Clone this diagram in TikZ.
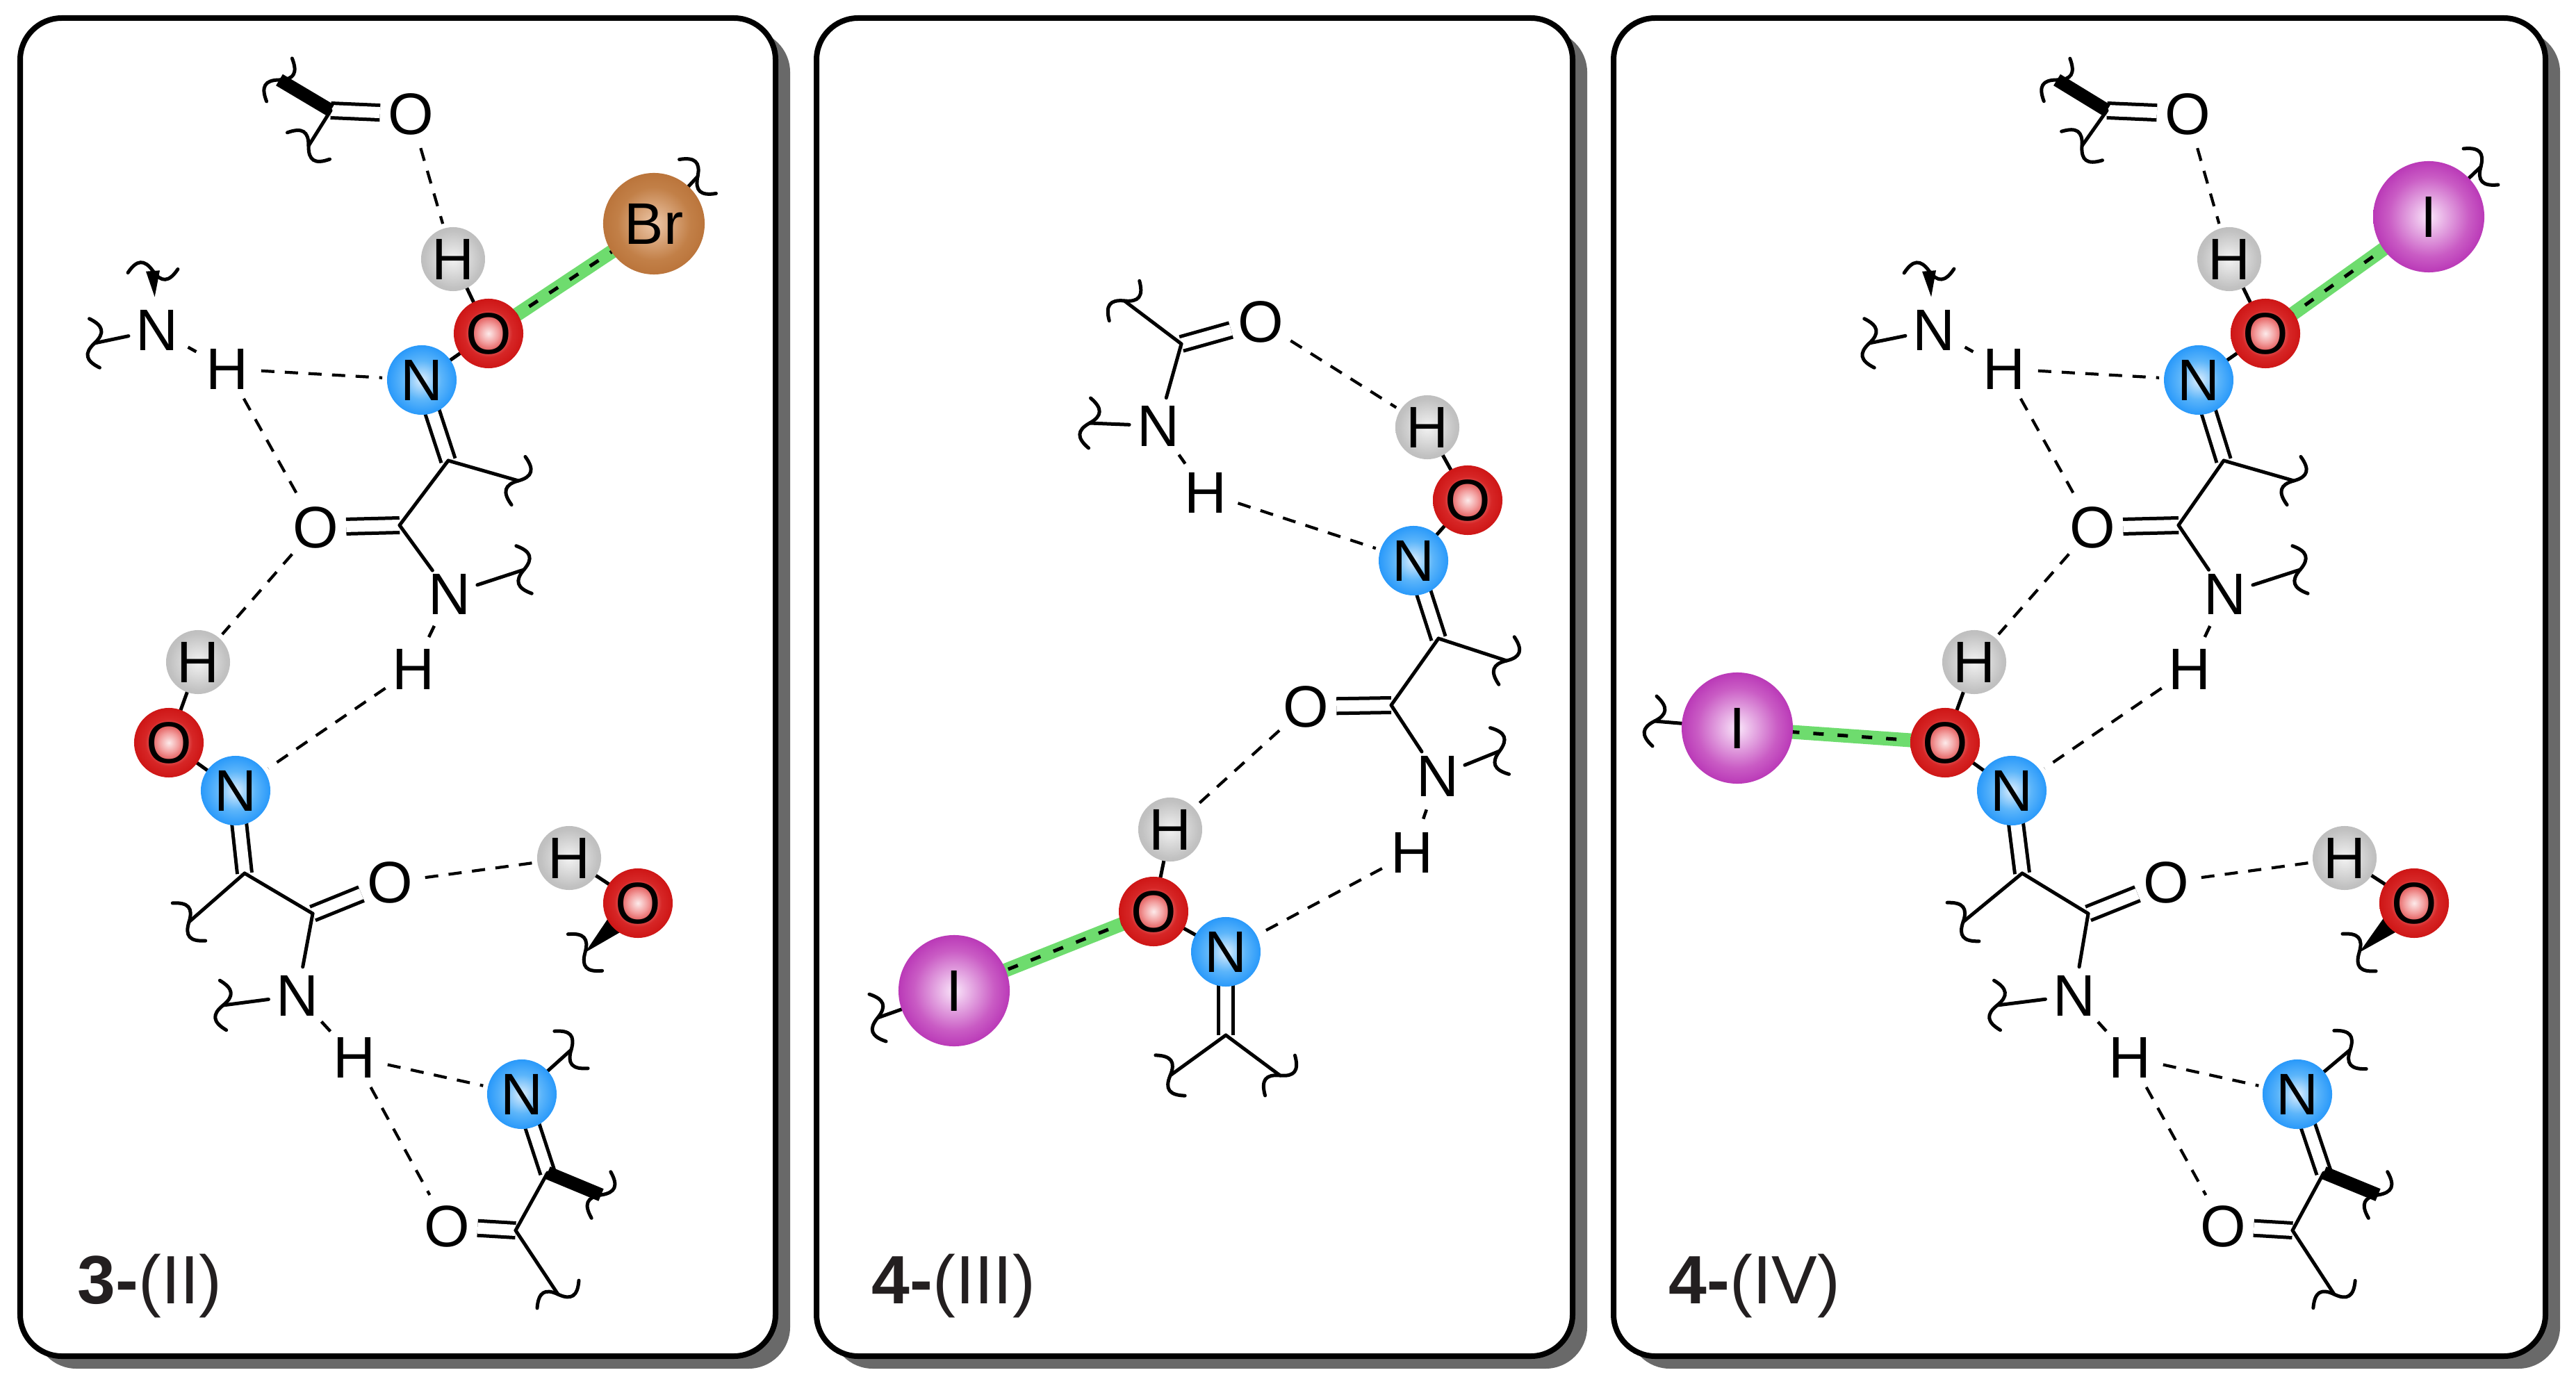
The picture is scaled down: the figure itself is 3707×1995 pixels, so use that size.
\documentclass[tikz,border=0pt]{standalone}
\usepackage{fontspec}
\setmainfont{Liberation Sans}
\usetikzlibrary{calc}
\pgfdeclarelayer{panels}
\pgfdeclarelayer{bonds}
\pgfsetlayers{panels,bonds,main}
\definecolor{shadowgray}{RGB}{105,105,105}
\definecolor{greenbond}{RGB}{110,220,110}
\definecolor{labelcol}{RGB}{35,31,32}
\pgfdeclareradialshading{redball}{\pgfpoint{0bp}{0bp}}{rgb(0bp)=(0.99,0.92,0.92);rgb(7bp)=(0.95,0.62,0.62);rgb(17bp)=(0.84,0.15,0.15);rgb(27bp)=(0.80,0.07,0.07);rgb(35bp)=(0.88,0.12,0.12);rgb(50bp)=(0.88,0.12,0.12)}
\pgfdeclareradialshading{blueball}{\pgfpoint{0bp}{0bp}}{rgb(0bp)=(0.86,0.93,0.99);rgb(14bp)=(0.36,0.71,0.98);rgb(30bp)=(0.07,0.55,0.98);rgb(50bp)=(0.07,0.55,0.98)}
\pgfdeclareradialshading{grayball}{\pgfpoint{0bp}{0bp}}{rgb(0bp)=(0.95,0.95,0.95);rgb(22bp)=(0.76,0.76,0.76);rgb(33bp)=(0.72,0.72,0.72);rgb(50bp)=(0.72,0.72,0.72)}
\pgfdeclareradialshading{brball}{\pgfpoint{0bp}{0bp}}{rgb(0bp)=(0.93,0.78,0.66);rgb(18bp)=(0.76,0.50,0.28);rgb(33bp)=(0.70,0.41,0.18);rgb(50bp)=(0.70,0.41,0.18)}
\pgfdeclareradialshading{iball}{\pgfpoint{0bp}{0bp}}{rgb(0bp)=(0.98,0.90,0.98);rgb(18bp)=(0.79,0.36,0.77);rgb(33bp)=(0.66,0.07,0.66);rgb(50bp)=(0.66,0.07,0.66)}
\tikzset{
  atomfont/.style={font=\fontsize{24}{24}\selectfont,text=black},
  plain/.style={atomfont,circle,inner sep=0pt,outer sep=0pt,minimum size=0.8cm},
  ball/.style={atomfont,circle,inner sep=0pt,outer sep=0pt,shade},
  hball/.style={ball,shading=grayball,minimum size=0.92cm},
  oball/.style={ball,shading=redball,minimum size=1.0cm},
  nball/.style={ball,shading=blueball,minimum size=1.0cm},
  brball/.style={ball,shading=brball,minimum size=1.46cm},
  iball/.style={ball,shading=iball,minimum size=1.6cm},
  bond/.style={line width=0.05cm,line cap=round,black},
  dbl/.style={line width=0.05cm,line cap=butt,black,double=white,double distance=0.16cm},
  bar/.style={line width=0.19cm,line cap=butt,black},
  hb/.style={line width=0.042cm,black,dash pattern=on 0.19cm off 0.15cm,shorten >=0.07cm,shorten <=0.07cm},
  nh/.style={line width=0.045cm,black,shorten >=0.09cm,shorten <=0.09cm},
  gb/.style={line width=0.2cm,greenbond},
  gd/.style={line width=0.05cm,black,dash pattern=on 0.15cm off 0.2cm},
  panelbox/.style={draw=black,line width=0.08cm,fill=white,rounded corners=0.6cm},
  panelshadow/.style={fill=shadowgray,rounded corners=0.6cm},
  plabel/.style={anchor=base west,inner sep=0pt,text=labelcol,font=\fontsize{28}{28}\selectfont},
  squig/.pic={\draw[bond] (-36,0) .. controls (-22,-18) and (-11,-18) .. (0,0) .. controls (11,18) and (22,18) .. (36,0);}
}
\newcommand{\wavemark}[2]{\path let \p1=($(#2)-(#1)$),\n1={atan2(\y1,\x1)} in (#2) pic[rotate=\n1+90]{squig};}
\newcommand{\wavebond}[2]{\draw[bond] (#1) -- (#2); \wavemark{#1}{#2}}
\newcommand{\wavebar}[2]{\draw[bar] (#1) -- (#2); \wavemark{#1}{#2}}
\newcommand{\wedgeb}[3]{\fill[black] (#1) -- ($(#2)!#3!90:(#1)$) -- ($(#2)!#3!-90:(#1)$) -- cycle;}
\begin{document}
\begin{tikzpicture}[x=0.01cm,y=-0.01cm]
\useasboundingbox (0,0) rectangle (3707,1995);
\begin{pgfonlayer}{panels}
  \fill[panelshadow] (50,44) rectangle (1137,1970);
  \path[panelbox] (29,26) rectangle (1116,1952);
  \fill[panelshadow] (1196,44) rectangle (2284,1970);
  \path[panelbox] (1175,26) rectangle (2263,1952);
  \fill[panelshadow] (2343,44) rectangle (3684,1970);
  \path[panelbox] (2322,26) rectangle (3663,1952);
\end{pgfonlayer}
% ---------- panel A
\node[plain] (aO1) at (591,164) {O};
\coordinate (aC1) at (476,159);
\coordinate (aW1) at (402,115);
\coordinate (aW2) at (444,210);
\node[hball] (aH1) at (652,373) {H};
\node[oball] (aO2) at (703,480) {O};
\node[nball] (aN1) at (607,547) {N};
\node[brball] (aBr) at (941,322) {Br};
\coordinate (aW3) at (1004,254);
\node[plain] (aN2) at (226,475) {N};
\node[plain] (aH2) at (327,531) {H};
\coordinate (aW4) at (220,390);
\coordinate (aW5) at (136,494);
\node[plain] (aO3) at (454,759) {O};
\coordinate (aC2) at (575,756);
\coordinate (aC3) at (645,663);
\coordinate (aW6) at (746,692);
\node[plain] (aN3) at (647,855) {N};
\coordinate (aW7) at (754,820);
\node[plain] (aH3) at (595,963) {H};
\node[hball] (aH4) at (285,953) {H};
\node[oball] (aO4) at (243,1069) {O};
\node[nball] (aN4) at (339,1138) {N};
\coordinate (aC4) at (352,1257);
\coordinate (aW8) at (272,1327);
\coordinate (aC5) at (450,1315);
\node[plain] (aO5) at (561,1270) {O};
\node[plain] (aN5) at (428,1433) {N};
\coordinate (aW9) at (321,1447);
\node[plain] (aH5) at (510,1522) {H};
\node[nball] (aN6) at (751,1575) {N};
\coordinate (aW10) at (822,1511);
\coordinate (aC6) at (788,1688);
\coordinate (aW11) at (865,1720);
\coordinate (aC7) at (742,1771);
\node[plain] (aO6) at (643,1765) {O};
\coordinate (aW12) at (803,1863);
\node[hball] (aH6) at (819,1235) {H};
\node[oball] (aO7) at (918,1300) {O};
\coordinate (aW13) at (842,1371);
\node[plabel] (aL) at (111,1876) {\textbf{3-}(II)};
% ---------- panel B
\node[plain] (bO1) at (1814,463) {O};
\coordinate (bC1) at (1700,495);
\coordinate (bW1) at (1618,433);
\node[plain] (bN1) at (1667,613) {N};
\coordinate (bW2) at (1568,609);
\node[plain] (bH1) at (1735,709) {H};
\node[nball] (bN2) at (2034,807) {N};
\node[hball] (bH2) at (2054,615) {H};
\node[oball] (bO2) at (2112,720) {O};
\coordinate (bC2) at (2070,919);
\coordinate (bW3) at (2168,951);
\coordinate (bC3) at (2002,1015);
\node[plain] (bO3) at (1879,1017) {O};
\node[plain] (bN3) at (2069,1117) {N};
\coordinate (bW4) at (2158,1081);
\node[plain] (bH3) at (2032,1227) {H};
\node[nball] (bN4) at (1764,1370) {N};
\node[hball] (bH4) at (1684,1194) {H};
\node[oball] (bO4) at (1660,1312) {O};
\node[iball] (bI) at (1373,1426) {I};
\coordinate (bW5) at (1263,1465);
\coordinate (bC4) at (1764,1490);
\coordinate (bW6) at (1684,1548);
\coordinate (bW7) at (1842,1548);
\node[plabel] (bL) at (1254,1876) {\textbf{4-}(III)};
% ---------- panel C
\node[plain] (cO1) at (3148,164) {O};
\coordinate (cC1) at (3032,159);
\coordinate (cW1) at (2960,115);
\coordinate (cW2) at (2996,210);
\node[hball] (cH1) at (3208,373) {H};
\node[oball] (cO2) at (3260,480) {O};
\node[nball] (cN1) at (3164,547) {N};
\node[iball] (cI1) at (3495,312) {I};
\coordinate (cW3) at (3570,240);
\node[plain] (cN2) at (2783,475) {N};
\node[plain] (cH2) at (2884,531) {H};
\coordinate (cW4) at (2776,390);
\coordinate (cW5) at (2690,494);
\node[plain] (cO3) at (3011,759) {O};
\coordinate (cC2) at (3135,756);
\coordinate (cC3) at (3200,663);
\coordinate (cW6) at (3301,692);
\node[plain] (cN3) at (3202,855) {N};
\coordinate (cW7) at (3310,820);
\node[plain] (cH3) at (3151,963) {H};
\node[hball] (cH4) at (2841,953) {H};
\node[oball] (cO4) at (2799,1069) {O};
\node[nball] (cN4) at (2895,1138) {N};
\node[iball] (cI2) at (2500,1048) {I};
\coordinate (cW14) at (2381,1038);
\coordinate (cC4) at (2910,1257);
\coordinate (cW8) at (2825,1327);
\coordinate (cC5) at (3005,1315);
\node[plain] (cO5) at (3117,1270) {O};
\node[plain] (cN5) at (2985,1433) {N};
\coordinate (cW9) at (2874,1447);
\node[plain] (cH5) at (3065,1522) {H};
\node[nball] (cN6) at (3306,1575) {N};
\coordinate (cW10) at (3382,1511);
\coordinate (cC6) at (3344,1688);
\coordinate (cW11) at (3422,1720);
\coordinate (cC7) at (3299,1771);
\node[plain] (cO6) at (3199,1765) {O};
\coordinate (cW12) at (3359,1863);
\node[hball] (cH6) at (3374,1235) {H};
\node[oball] (cO7) at (3474,1300) {O};
\coordinate (cW13) at (3395,1371);
\node[plabel] (cL) at (2401,1876) {\textbf{4-}(IV)};
\begin{pgfonlayer}{bonds}
% ---------- panel A bonds
\draw[dbl] (aC1) -- (aO1);
\draw[dbl] (aC3) -- (aN1.center);
\draw[dbl] (aC2) -- (aO3);
\draw[dbl] (aC4) -- (aN4.center);
\draw[dbl] (aC5) -- (aO5);
\draw[dbl] (aC6) -- (aN6.center);
\draw[dbl] (aC7) -- (aO6);
\wavebar{aC1}{aW1}
\wavebond{aC1}{aW2}
\draw[hb] (aO1) -- (aH1);
\draw[bond] (aH1.center) -- (aO2.center);
\draw[bond] (aO2.center) -- (aN1.center);
\draw[gb] (aO2.center) -- (aBr.center);
\draw[gd] (aO2.center) -- (aBr.center);
\wavebond{aBr.center}{aW3}
\wedgeb{$(aN2)!0.56!(aW4)$}{aW4}{0.1cm}
\wavemark{aN2}{aW4}
\wavebond{aN2}{aW5}
\draw[nh] (aN2) -- (aH2);
\draw[hb] (aH2) -- (aN1);
\draw[hb] (aH2) -- (aO3);
\wavebond{aC3}{aW6}
\draw[bond] (aC3) -- (aC2);
\draw[bond] (aC2) -- (aN3);
\wavebond{aN3}{aW7}
\draw[nh] (aN3) -- (aH3);
\draw[hb] (aO3) -- (aH4);
\draw[bond] (aH4.center) -- (aO4.center);
\draw[bond] (aO4.center) -- (aN4.center);
\draw[hb] (aH3) -- (aN4);
\wavebond{aC4}{aW8}
\draw[bond] (aC4) -- (aC5);
\draw[bond] (aC5) -- (aN5);
\wavebond{aN5}{aW9}
\draw[nh] (aN5) -- (aH5);
\draw[hb] (aO5) -- (aH6);
\draw[bond] (aH6.center) -- (aO7.center);
\wedgeb{aW13}{aO7.center}{0.24cm}
\wavemark{aO7}{aW13}
\draw[hb] (aH5) -- (aN6);
\draw[hb] (aH5) -- (aO6);
\wavebond{aN6.center}{aW10}
\wavebar{aC6}{aW11}
\draw[bond] (aC6) -- (aC7);
\wavebond{aC7}{aW12}
% ---------- panel B bonds
\draw[dbl] (bC1) -- (bO1);
\draw[dbl] (bC2) -- (bN2.center);
\draw[dbl] (bC3) -- (bO3);
\draw[dbl] (bC4) -- (bN4.center);
\wavebond{bC1}{bW1}
\draw[bond] (bC1) -- (bN1);
\wavebond{bN1}{bW2}
\draw[nh] (bN1) -- (bH1);
\draw[hb] (bH1) -- (bN2);
\draw[hb] (bO1) -- (bH2);
\draw[bond] (bH2.center) -- (bO2.center);
\draw[bond] (bO2.center) -- (bN2.center);
\wavebond{bC2}{bW3}
\draw[bond] (bC2) -- (bC3);
\draw[bond] (bC3) -- (bN3);
\wavebond{bN3}{bW4}
\draw[nh] (bN3) -- (bH3);
\draw[hb] (bH3) -- (bN4);
\draw[hb] (bO3) -- (bH4);
\draw[bond] (bH4.center) -- (bO4.center);
\draw[bond] (bO4.center) -- (bN4.center);
\draw[gb] (bO4.center) -- (bI.center);
\draw[gd] (bO4.center) -- (bI.center);
\wavebond{bI.center}{bW5}
\wavebond{bC4}{bW6}
\wavebond{bC4}{bW7}
% ---------- panel C bonds
\draw[dbl] (cC1) -- (cO1);
\draw[dbl] (cC3) -- (cN1.center);
\draw[dbl] (cC2) -- (cO3);
\draw[dbl] (cC4) -- (cN4.center);
\draw[dbl] (cC5) -- (cO5);
\draw[dbl] (cC6) -- (cN6.center);
\draw[dbl] (cC7) -- (cO6);
\wavebar{cC1}{cW1}
\wavebond{cC1}{cW2}
\draw[hb] (cO1) -- (cH1);
\draw[bond] (cH1.center) -- (cO2.center);
\draw[bond] (cO2.center) -- (cN1.center);
\draw[gb] (cO2.center) -- (cI1.center);
\draw[gd] (cO2.center) -- (cI1.center);
\wavebond{cI1.center}{cW3}
\wedgeb{$(cN2)!0.56!(cW4)$}{cW4}{0.1cm}
\wavemark{cN2}{cW4}
\wavebond{cN2}{cW5}
\draw[nh] (cN2) -- (cH2);
\draw[hb] (cH2) -- (cN1);
\draw[hb] (cH2) -- (cO3);
\wavebond{cC3}{cW6}
\draw[bond] (cC3) -- (cC2);
\draw[bond] (cC2) -- (cN3);
\wavebond{cN3}{cW7}
\draw[nh] (cN3) -- (cH3);
\draw[hb] (cO3) -- (cH4);
\draw[bond] (cH4.center) -- (cO4.center);
\draw[bond] (cO4.center) -- (cN4.center);
\draw[gb] (cO4.center) -- (cI2.center);
\draw[gd] (cO4.center) -- (cI2.center);
\wavebond{cI2.center}{cW14}
\draw[hb] (cH3) -- (cN4);
\wavebond{cC4}{cW8}
\draw[bond] (cC4) -- (cC5);
\draw[bond] (cC5) -- (cN5);
\wavebond{cN5}{cW9}
\draw[nh] (cN5) -- (cH5);
\draw[hb] (cO5) -- (cH6);
\draw[bond] (cH6.center) -- (cO7.center);
\wedgeb{cW13}{cO7.center}{0.24cm}
\wavemark{cO7}{cW13}
\draw[hb] (cH5) -- (cN6);
\draw[hb] (cH5) -- (cO6);
\wavebond{cN6.center}{cW10}
\wavebar{cC6}{cW11}
\draw[bond] (cC6) -- (cC7);
\wavebond{cC7}{cW12}
\end{pgfonlayer}
\end{tikzpicture}
\end{document}
